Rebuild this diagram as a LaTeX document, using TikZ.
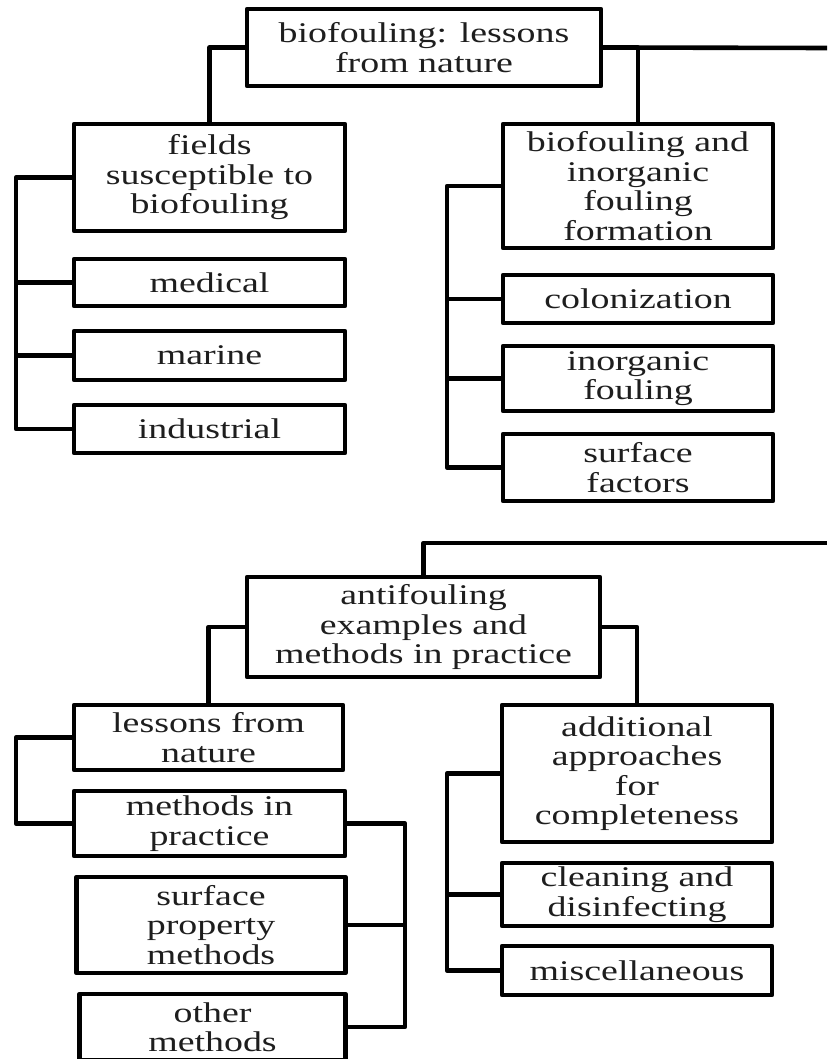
\documentclass[tikz,border=0pt]{standalone}
\usepackage{fontspec}
\setmainfont{Liberation Serif}[FakeStretch=1.33]
\definecolor{txt}{HTML}{1E1E1E}
\begin{document}
\begin{tikzpicture}[x=1pt,y=-1pt,
  box/.style={draw=black, line width=4.6pt, fill=white, outer sep=0pt, inner sep=1pt,
    align=center, text=txt, font=\fontsize{28.5}{29.5}\selectfont, line join=round},
  conn/.style={draw=black, line width=4.6pt, line join=round}]
\useasboundingbox (0,0) rectangle (827,1059);
\clip (0,0) rectangle (827,1059);
% top tree
\node[box, minimum width=354pt, minimum height=77pt] (root) at (424,47.5) {biofouling: lessons\\from nature};
\node[box, minimum width=271pt, minimum height=107pt] (fields) at (209.5,177.5) {fields\\susceptible to\\biofouling};
\node[box, minimum width=271pt, minimum height=47pt] (medical) at (209.5,282.5) {medical};
\node[box, minimum width=271pt, minimum height=49pt] (marine) at (209.5,355.5) {marine};
\node[box, minimum width=271pt, minimum height=48pt] (industrial) at (209.5,429) {industrial};
\node[box, minimum width=270pt, minimum height=124pt] (formation) at (638,186) {biofouling and\\inorganic\\fouling\\formation};
\node[box, minimum width=270pt, minimum height=48pt] (colon) at (638,299) {colonization};
\node[box, minimum width=270pt, minimum height=65pt] (inorg) at (638,378.5) {inorganic\\fouling};
\node[box, minimum width=270pt, minimum height=67pt] (surf) at (638,467.5) {surface\\factors};
\coordinate (rootR) at (827,48);
% bottom tree
\node[box, minimum width=353pt, minimum height=100pt] (anti) at (423.5,627) {antifouling\\examples and\\methods in practice};
\node[box, minimum width=269pt, minimum height=65pt] (lessons) at (208.5,737.5) {lessons from\\nature};
\node[box, minimum width=271pt, minimum height=65pt] (mip) at (209.5,823.5) {methods in\\practice};
\node[box, minimum width=269pt, minimum height=96pt] (spm) at (211,925) {surface\\property\\methods};
\node[box, minimum width=266pt, minimum height=66pt] (other) at (212.5,1027) {other\\methods};
\node[box, minimum width=270pt, minimum height=137pt] (add) at (637,773.5) {additional\\approaches\\for\\completeness};
\node[box, minimum width=270pt, minimum height=63pt] (clean) at (637,894.5) {cleaning and\\disinfecting};
\node[box, minimum width=270pt, minimum height=49pt] (misc) at (637,970.5) {miscellaneous};
\coordinate (antiR) at (827,543);
% connectors top
\draw[conn] (root.west) -| (fields.north);
\draw[conn] (root.east) -- (rootR);
\draw[conn] (formation.north) |- (root.east);
\draw[conn] (fields.west) -- ++(-58,0) |- (industrial.west);
\draw[conn] (medical.west) -- ++(-58,0);
\draw[conn] (marine.west) -- ++(-58,0);
\draw[conn] (formation.west) -- ++(-56,0) |- (surf.west);
\draw[conn] (colon.west) -- ++(-56,0);
\draw[conn] (inorg.west) -- ++(-56,0);
% connectors bottom
\draw[conn] (anti.north) |- (antiR);
\draw[conn] (anti.west) -| (lessons.north);
\draw[conn] (anti.east) -| (add.north);
\draw[conn] (lessons.west) -- ++(-58,0) |- (mip.west);
\draw[conn] (mip.east) -- ++(60,0) |- (other.east);
\draw[conn] (spm.east) -- ++(59,0);
\draw[conn] (add.west) -- ++(-55,0) |- (misc.west);
\draw[conn] (clean.west) -- ++(-55,0);
\end{tikzpicture}
\end{document}
